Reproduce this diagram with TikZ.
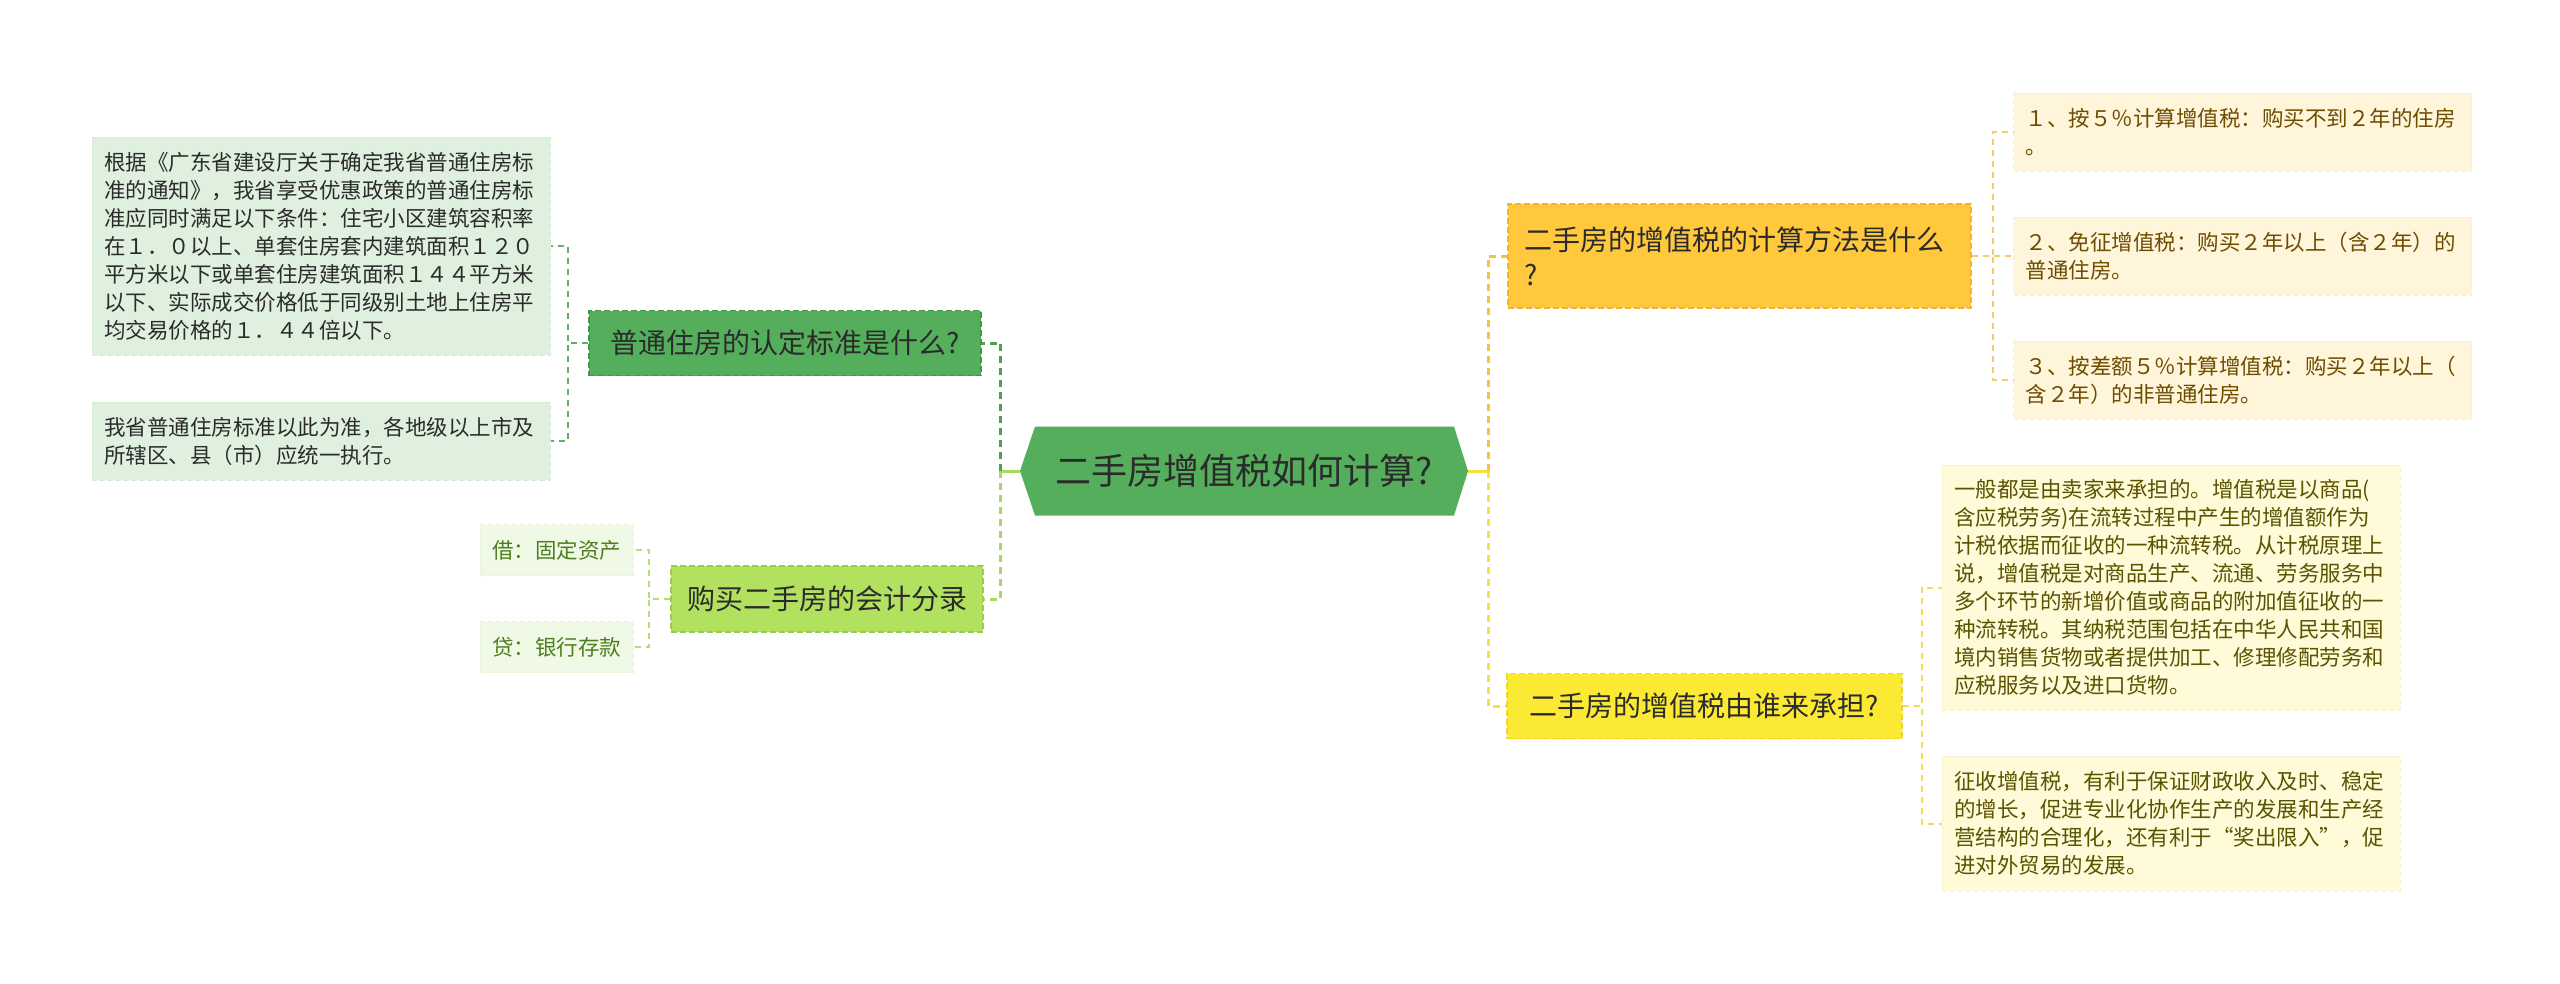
\documentclass[tikz,border=0pt]{standalone}
\usepackage{fontspec}
\setmainfont{Noto Sans CJK SC}
\usetikzlibrary{positioning, calc}
\usepackage{xcolor}

\definecolor{testo}{HTML}{2B2B2B}
\definecolor{verde}{HTML}{55AE5C}
\definecolor{verdebordo}{HTML}{3F9A47}
\definecolor{verdelinea}{HTML}{4CA153}
\definecolor{verdechiaro}{HTML}{DFF0DF}
\definecolor{verdechiarobordo}{HTML}{D5EBD6}
\definecolor{verderamino}{HTML}{62B068}
\definecolor{lime}{HTML}{B2E05F}
\definecolor{limebordo}{HTML}{9CCB4A}
\definecolor{limelinea}{HTML}{A9DA5B}
\definecolor{limechiaro}{HTML}{F0F8E6}
\definecolor{limechiarobordo}{HTML}{E8F4DA}
\definecolor{limetesto}{HTML}{4E7F1E}
\definecolor{limeramino}{HTML}{B5DE78}
\definecolor{arancio}{HTML}{FFC83D}
\definecolor{aranciobordo}{HTML}{F0B530}
\definecolor{arancilinea}{HTML}{F4C24B}
\definecolor{aranciochiaro}{HTML}{FEF5DA}
\definecolor{aranciochiarobordo}{HTML}{F9EDCB}
\definecolor{aranciotesto}{HTML}{6E4C00}
\definecolor{arancioramino}{HTML}{F1CC6B}
\definecolor{giallo}{HTML}{FBE934}
\definecolor{giallobordo}{HTML}{EED820}
\definecolor{giallolinea}{HTML}{F5E23E}
\definecolor{giallochiaro}{HTML}{FFFBD8}
\definecolor{giallochiarobordo}{HTML}{F7F2CB}
\definecolor{giallotesto}{HTML}{5B5300}
\definecolor{gialloramino}{HTML}{EEDF58}

\begin{document}
\begin{tikzpicture}[
  x=1pt, y=-1pt,
  centro/.style={fill=white, inner sep=0pt, minimum width=448pt, minimum height=89pt,
                 text=testo, font=\fontsize{36}{44}\selectfont,
                 path picture={\fill[verde] (path picture bounding box.west)
                   -- ([xshift=15pt]path picture bounding box.north west)
                   -- ([xshift=-14pt]path picture bounding box.north east)
                   -- (path picture bounding box.east)
                   -- ([xshift=-14pt]path picture bounding box.south east)
                   -- ([xshift=15pt]path picture bounding box.south west) -- cycle;}},
  ramo/.style={dash pattern=on 6pt off 3pt, line width=1.5pt, inner xsep=16pt, inner ysep=0pt,
               text=testo, font=\fontsize{28}{35}\selectfont},
  foglia/.style={dash pattern=on 5pt off 3pt, line width=1pt, inner xsep=12pt, inner ysep=0pt,
                 align=left, text width=434pt, font=\fontsize{21.5}{28}\selectfont},
  fogliolina/.style={dash pattern=on 5pt off 3pt, line width=1pt, inner xsep=12pt, inner ysep=0pt,
                     minimum width=153pt, minimum height=51pt, font=\fontsize{21.5}{28}\selectfont},
  collegamento/.style={line width=3pt, dash pattern=on 7pt off 5pt},
  attacco/.style={line width=3pt},
  ramino/.style={line width=2pt, dash pattern=on 6pt off 5pt}
]
\useasboundingbox (0,0) rectangle (2560,983);

% centro
\node[centro] (C) at (1244,471) {二手房增值税如何计算?};

% rami
\node[ramo, draw=verdebordo, fill=verde, minimum width=392pt, minimum height=65pt] (S1) at (785,343) {普通住房的认定标准是什么?};
\node[ramo, draw=limebordo, fill=lime, minimum width=308pt, minimum height=66pt] (S2) at (827,599) {购买二手房的会计分录};
\node[ramo, draw=aranciobordo, fill=arancio, minimum height=104pt, text width=431pt, align=left] (D1) at (1739.5,256) {二手房的增值税的计算方法是什么\\?};
\node[ramo, draw=giallobordo, fill=giallo, minimum width=395pt, minimum height=65pt] (D2) at (1704.5,706) {二手房的增值税由谁来承担?};

% foglie a sinistra
\node[foglia, draw=verdechiarobordo, fill=verdechiaro, text=testo, minimum height=218pt] (S1a) at (321,246)
  {根据《广东省建设厅关于确定我省普通住房标\\准的通知》，我省享受优惠政策的普通住房标\\准应同时满足以下条件：住宅小区建筑容积率\\在１．０以上、单套住房套内建筑面积１２０\\平方米以下或单套住房建筑面积１４４平方米\\以下、实际成交价格低于同级别土地上住房平\\均交易价格的１．４４倍以下。};
\node[foglia, draw=verdechiarobordo, fill=verdechiaro, text=testo, minimum height=78pt] (S1b) at (321,441)
  {我省普通住房标准以此为准，各地级以上市及\\所辖区、县（市）应统一执行。};

\foreach \n/\y/\t in {a/550/{借：固定资产}, b/647/{贷：银行存款}} {
  \node[fogliolina, draw=limechiarobordo, fill=limechiaro, text=limetesto] (S2\n) at (556.5,\y) {\t};
  \draw[ramino, limeramino] (S2.west) -- ++(-21,0) |- (S2\n.east);
}
\foreach \f in {S1a, S1b}
  \draw[ramino, verderamino] (S1.west) -- ++(-20,0) |- (\f.east);

% foglie a destra
\foreach \n/\y/\t in {a/132/{１、按５％计算增值税：购买不到２年的住房\\。},
                      b/256/{２、免征增值税：购买２年以上（含２年）的\\普通住房。},
                      c/380/{３、按差额５％计算增值税：购买２年以上（\\含２年）的非普通住房。}} {
  \node[foglia, draw=aranciochiarobordo, fill=aranciochiaro, text=aranciotesto, minimum height=78pt] (D1\n) at (2242.5,\y) {\t};
  \draw[ramino, arancioramino] (D1.east) -- ++(21,0) |- (D1\n.west);
}

\node[foglia, draw=giallochiarobordo, fill=giallochiaro, text=giallotesto, minimum height=245pt] (D2a) at (2171,587.5)
  {一般都是由卖家来承担的。增值税是以商品(\\含应税劳务)在流转过程中产生的增值额作为\\计税依据而征收的一种流转税。从计税原理上\\说，增值税是对商品生产、流通、劳务服务中\\多个环节的新增价值或商品的附加值征收的一\\种流转税。其纳税范围包括在中华人民共和国\\境内销售货物或者提供加工、修理修配劳务和\\应税服务以及进口货物。};
\node[foglia, draw=giallochiarobordo, fill=giallochiaro, text=giallotesto, minimum height=135pt] (D2b) at (2171,823.5)
  {征收增值税，有利于保证财政收入及时、稳定\\的增长，促进专业化协作生产的发展和生产经\\营结构的合理化，还有利于“奖出限入”，促\\进对外贸易的发展。};
\foreach \f in {D2a, D2b}
  \draw[ramino, gialloramino] (D2.east) -- ++(19,0) |- (\f.west);

% collegamenti dal centro
\draw[attacco, limelinea] (C.west) -- ++(-19,0) coordinate (nodosx);
\draw[collegamento, verdelinea] (nodosx) |- (S1.east);
\draw[collegamento, limelinea] (nodosx) |- (S2.east);
\draw[attacco, giallolinea] (C.east) -- ++(20,0) coordinate (nododx);
\draw[collegamento, arancilinea] (nododx) |- (D1.west);
\draw[collegamento, giallolinea] (nododx) |- (D2.west);

\end{tikzpicture}
\end{document}
